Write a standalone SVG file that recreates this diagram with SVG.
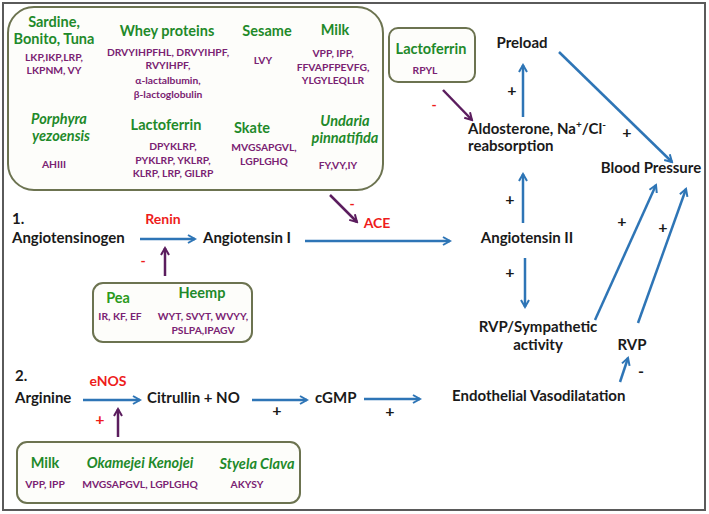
<svg xmlns="http://www.w3.org/2000/svg" width="709" height="514" viewBox="0 0 709 514">
<defs>
<marker id="ab" markerWidth="10" markerHeight="10" refX="8" refY="5" orient="auto" markerUnits="userSpaceOnUse">
<path d="M1,1 L8,5 L1,9" fill="none" stroke="#2e75b6" stroke-width="2"/>
</marker>
<marker id="ap" markerWidth="10" markerHeight="10" refX="8" refY="5" orient="auto" markerUnits="userSpaceOnUse">
<path d="M1,1 L8,5 L1,9" fill="none" stroke="#5b1d5e" stroke-width="2"/>
</marker>
<style>
text{font-family:Lato,"Liberation Sans",sans-serif;font-weight:bold}
.g{fill:#1f8a2a;font-size:14.5px}
.gi{fill:#1f8a2a;font-size:14.5px;font-style:italic}
.p{fill:#7a2272;font-size:10.3px}
.r{fill:#ee1c1c;font-size:14px}
.s{fill:#1a1a1a;font-size:15px}
.m{text-anchor:middle}
.box{fill:#fdfdfa;stroke:#6c7350;stroke-width:2}
.bl{stroke:#2e75b6;stroke-width:2.5;fill:none;marker-end:url(#ab)}
.pu{stroke:#5b1d5e;stroke-width:2.5;fill:none;marker-end:url(#ap)}
</style>
</defs>
<rect x="0" y="0" width="709" height="514" fill="#ffffff"/>
<rect x="3" y="3" width="702" height="507" fill="none" stroke="#5a5a5a" stroke-width="2"/>

<g id="peptides-ace">
<rect class="box" x="8" y="7" width="375" height="183" rx="26"/>
<text class="g m" x="54" y="27">Sardine,</text>
<text class="g m" x="54" y="44">Bonito, Tuna</text>
<text class="p m" x="54" y="61">LKP,IKP,LRP,</text>
<text class="p m" x="54" y="74">LKPNM, VY</text>
<text class="g m" x="167" y="36">Whey proteins</text>
<text class="p m" x="168" y="56">DRVYIHPFHL, DRVYIHPF,</text>
<text class="p m" x="168" y="69">RVYIHPF,</text>
<text class="p m" x="168" y="84">α-lactalbumin,</text>
<text class="p m" x="168" y="98">β-lactoglobulin</text>
<text class="g m" x="267" y="36">Sesame</text>
<text class="p m" x="263" y="64">LVY</text>
<text class="g m" x="335" y="35">Milk</text>
<text class="p m" x="333" y="57">VPP, IPP,</text>
<text class="p m" x="333" y="71">FFVAPFPEVFG,</text>
<text class="p m" x="333" y="84">YLGYLEQLLR</text>
<text class="gi m" x="59" y="124">Porphyra</text>
<text class="gi m" x="61" y="141">yezoensis</text>
<text class="p m" x="54" y="168">AHIII</text>
<text class="g m" x="166" y="130">Lactoferrin</text>
<text class="p m" x="173" y="150">DPYKLRP,</text>
<text class="p m" x="173" y="164">PYKLRP, YKLRP,</text>
<text class="p m" x="173" y="177">KLRP, LRP, GILRP</text>
<text class="g m" x="252" y="133">Skate</text>
<text class="p m" x="264" y="151">MVGSAPGVL,</text>
<text class="p m" x="264" y="165">LGPLGHQ</text>
<text class="gi m" x="345" y="126">Undaria</text>
<text class="gi m" x="345" y="143">pinnatifida</text>
<text class="p m" x="338" y="169">FY,VY,IY</text>
</g>

<g id="lactoferrin-box">
<rect class="box" x="389" y="28" width="86" height="54" rx="9"/>
<text class="g m" x="431" y="54">Lactoferrin</text>
<text class="p m" x="425" y="74">RPYL</text>
</g>

<g id="renin-inhibitors">
<rect class="box" x="93" y="283" width="159" height="59" rx="10"/>
<text class="g m" x="118" y="303" style="fill:#2a9a1a">Pea</text>
<text class="g m" x="202" y="298">Heemp</text>
<text class="p m" x="120" y="320">IR, KF, EF</text>
<text class="p m" x="203" y="320">WYT, SVYT, WVYY,</text>
<text class="p m" x="203" y="334">PSLPA,IPAGV</text>
</g>

<g id="enos-activators">
<rect class="box" x="17" y="442" width="283" height="61" rx="10"/>
<text class="g m" x="45" y="468">Milk</text>
<text class="gi m" x="140" y="468">Okamejei Kenojei</text>
<text class="gi m" x="257" y="469">Styela Clava</text>
<text class="p m" x="45" y="488">VPP, IPP</text>
<text class="p m" x="140" y="488">MVGSAPGVL, LGPLGHQ</text>
<text class="p m" x="247" y="488">AKYSY</text>
</g>

<g id="pathway1">
<text class="s" x="12" y="224">1.</text>
<text class="s" x="12" y="243">Angiotensinogen</text>
<text class="r m" x="163" y="224">Renin</text>
<text class="s" x="203" y="243">Angiotensin I</text>
<text class="r m" x="377" y="228">ACE</text>
<text class="s m" x="527" y="243">Angiotensin II</text>
<text class="s" x="468" y="134">Aldosterone, Na<tspan font-size="10" dy="-6">+</tspan><tspan dy="6">/Cl</tspan><tspan font-size="10" dy="-6">-</tspan></text>
<text class="s" x="468" y="151">reabsorption</text>
<text class="s m" x="522" y="48">Preload</text>
<text class="s m" x="651" y="173">Blood Pressure</text>
<text class="s m" x="538" y="332">RVP/Sympathetic</text>
<text class="s m" x="538" y="350">activity</text>
<text class="s m" x="632" y="350">RVP</text>
</g>

<g id="pathway2">
<text class="s" x="15" y="381">2.</text>
<text class="s" x="15" y="403">Arginine</text>
<text class="r m" x="108" y="386">eNOS</text>
<text class="s" x="147" y="403">Citrullin + NO</text>
<text class="s" x="315" y="403">cGMP</text>
<text class="s" x="452" y="401">Endothelial Vasodilatation</text>
</g>

<g id="connectors">
<line class="bl" x1="140" y1="239" x2="195" y2="239"/>
<line class="pu" x1="165" y1="276" x2="165" y2="248"/>
<line class="bl" x1="305" y1="241" x2="450" y2="241"/>
<line class="pu" x1="330" y1="195" x2="357" y2="222"/>
<line class="pu" x1="443" y1="90" x2="472" y2="120"/>
<line class="bl" x1="523" y1="223" x2="523" y2="174"/>
<line class="bl" x1="523" y1="117" x2="523" y2="65"/>
<line class="bl" x1="559" y1="52" x2="672" y2="162"/>
<line class="bl" x1="525" y1="258" x2="525" y2="307"/>
<line class="bl" x1="595" y1="320" x2="656" y2="185"/>
<line class="bl" x1="638" y1="323" x2="686" y2="189"/>
<line class="bl" x1="620" y1="382" x2="628" y2="358"/>
<line class="bl" x1="83" y1="400" x2="140" y2="400"/>
<line class="pu" x1="118" y1="437" x2="118" y2="409"/>
<line class="bl" x1="252" y1="400" x2="307" y2="400"/>
<line class="bl" x1="364" y1="399" x2="420" y2="399"/>
<g>
<text class="r m" x="143" y="266">-</text>
<text class="r m" x="352" y="209">-</text>
<text class="r m" x="434" y="110">-</text>
<text class="r m" x="100" y="425" style="font-size:16px">+</text>
<text class="s m" x="512" y="96" style="font-size:16px">+</text>
<text class="s m" x="627" y="138" style="font-size:16px">+</text>
<text class="s m" x="510" y="205" style="font-size:16px">+</text>
<text class="s m" x="510" y="278" style="font-size:16px">+</text>
<text class="s m" x="622" y="227" style="font-size:16px">+</text>
<text class="s m" x="663" y="233" style="font-size:16px">+</text>
<text class="s m" x="641" y="377" style="font-size:16px">-</text>
<text class="s m" x="277" y="416" style="font-size:16px">+</text>
<text class="s m" x="390" y="417" style="font-size:16px">+</text>
</g>
</g>
</svg>
